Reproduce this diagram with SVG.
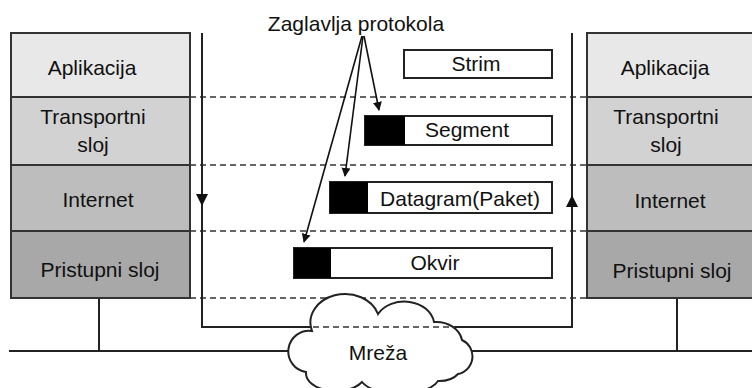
<svg xmlns="http://www.w3.org/2000/svg" width="752" height="388" viewBox="0 0 752 388">
<defs>
<style>
text{font-family:"Liberation Sans",Arial,sans-serif;font-size:21px;fill:#111;text-anchor:middle}
.layer{stroke:#333;stroke-width:2}
.dash{stroke:#333;stroke-width:1.5;stroke-dasharray:6 4;fill:none}
.line{stroke:#222;stroke-width:2;fill:none}
.pkt{fill:#fff;stroke:#222;stroke-width:2}
.hdr{fill:#000}
</style>
<marker id="ah" viewBox="0 0 10 10" refX="9" refY="5" markerWidth="9" markerHeight="12" markerUnits="userSpaceOnUse" orient="auto">
<path d="M0,0 L10,5 L0,10 z" fill="#111"/>
</marker>
</defs>
<rect width="752" height="388" fill="#fff"/>

<g id="connectors">
<line class="dash" x1="190" y1="97" x2="587" y2="97"/>
<line class="dash" x1="190" y1="165" x2="587" y2="165"/>
<line class="dash" x1="190" y1="231" x2="587" y2="231"/>
<line class="dash" x1="190" y1="298" x2="587" y2="298"/>
<polyline class="line" points="202,33 202,327 572,327 572,33"/>
<path d="M196,194 L208,194 L202,206 z" fill="#111"/>
<path d="M566,207 L578,207 L572,195 z" fill="#111"/>
<line class="line" x1="99" y1="298" x2="99" y2="351"/>
<line class="line" x1="677" y1="298" x2="677" y2="351"/>
<line class="line" x1="9" y1="351" x2="752" y2="351"/>
<line stroke="#111" stroke-width="1.6" x1="364" y1="36" x2="379" y2="110" marker-end="url(#ah)"/>
<line stroke="#111" stroke-width="1.6" x1="363" y1="36" x2="345" y2="176" marker-end="url(#ah)"/>
<line stroke="#111" stroke-width="1.6" x1="362" y1="36" x2="304" y2="242" marker-end="url(#ah)"/>
</g>

<g id="left-stack">
<rect class="layer" x="11" y="33" width="179" height="64" fill="#e8e8e8"/>
<rect class="layer" x="11" y="97" width="179" height="68" fill="#d2d2d2"/>
<rect class="layer" x="11" y="165" width="179" height="66" fill="#bdbdbd"/>
<rect class="layer" x="11" y="231" width="179" height="67" fill="#a8a8a8"/>
<text x="92" y="75">Aplikacija</text>
<text x="93" y="124">Transportni</text>
<text x="93" y="152">sloj</text>
<text x="98" y="207">Internet</text>
<text x="100" y="277">Pristupni sloj</text>
</g>

<g id="right-stack">
<rect class="layer" x="587" y="33" width="175" height="64" fill="#e8e8e8"/>
<rect class="layer" x="587" y="97" width="175" height="68" fill="#d2d2d2"/>
<rect class="layer" x="587" y="165" width="175" height="66" fill="#bdbdbd"/>
<rect class="layer" x="587" y="231" width="175" height="67" fill="#a8a8a8"/>
<text x="665" y="75">Aplikacija</text>
<text x="666" y="124">Transportni</text>
<text x="666" y="152">sloj</text>
<text x="670" y="208">Internet</text>
<text x="672" y="278">Pristupni sloj</text>
</g>

<g id="title">
<text x="356" y="31">Zaglavlja protokola</text>
</g>

<g id="strim">
<rect class="pkt" x="404" y="50" width="148" height="28"/>
<text x="476" y="71">Strim</text>
</g>
<g id="segment">
<rect class="pkt" x="365" y="116" width="187" height="29"/>
<rect class="hdr" x="365" y="116" width="40" height="29"/>
<text x="467" y="137">Segment</text>
</g>
<g id="datagram">
<rect class="pkt" x="330" y="182" width="222" height="31"/>
<rect class="hdr" x="330" y="182" width="38" height="31"/>
<text x="460" y="206">Datagram(Paket)</text>
</g>
<g id="okvir">
<rect class="pkt" x="294" y="248" width="258" height="30"/>
<rect class="hdr" x="294" y="248" width="37" height="30"/>
<text x="435" y="270">Okvir</text>
</g>

<g id="cloud">
<path d="M306,372 A20,20 0 0 1 312,331 A34,28 0 0 1 378,314 A30,24 0 0 1 434,322 A26,22 0 0 1 462,340 A18,18 0 0 1 458,374 A22,14 0 0 1 438,381 A40,18 0 0 1 362,382 A30,18 0 0 1 306,372 Z" fill="#fff" stroke="#222" stroke-width="2"/>
<line class="dash" x1="313" y1="327" x2="455" y2="327"/>
<text x="378" y="360">Mreža</text>
</g>
</svg>
